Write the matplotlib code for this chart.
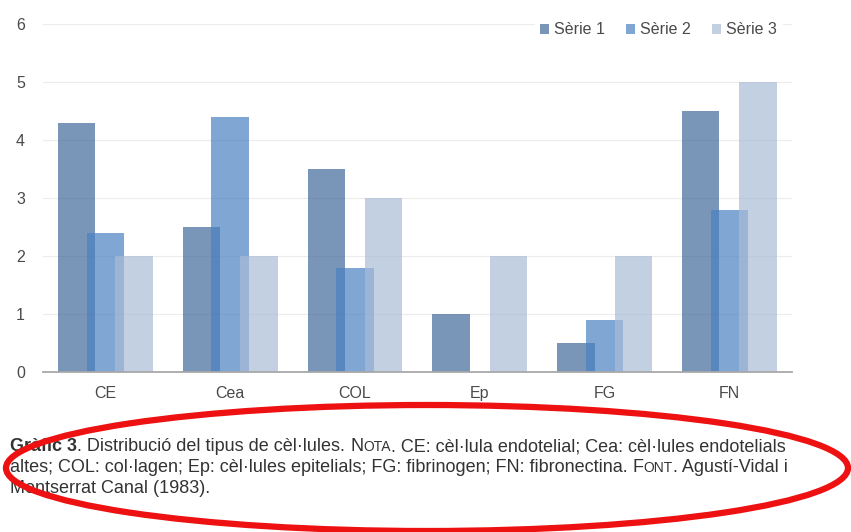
import matplotlib
matplotlib.use('Agg')
import matplotlib.pyplot as plt
from matplotlib.patches import Ellipse
import numpy as np

# data
categories = ['CE', 'Cea', 'COL', 'Ep', 'FG', 'FN']
serie1 = [4.3, 2.5, 3.5, 1.0, 0.5, 4.5]
serie2 = [2.4, 4.4, 1.8, 0.0, 0.9, 2.8]
serie3 = [2.0, 2.0, 3.0, 2.0, 2.0, 5.0]
series_names = ['Sèrie 1', 'Sèrie 2', 'Sèrie 3']
yticks = [0, 1, 2, 3, 4, 5, 6]

# base colours, drawn with alpha so the overlaps darken like the original
colors = ['#41689a', '#4a80c2', '#a9bcd7']
alpha = 0.7

fig = plt.figure(figsize=(8.51, 5.32), dpi=100)
ax = fig.add_axes([0.0505, 0.3008, 0.88, 0.6542])

x = np.arange(len(categories))
width = 0.30
offset = 0.23
for i, (vals, name) in enumerate(zip([serie1, serie2, serie3], series_names)):
    ax.bar(x + (i - 1) * offset, vals, width, color=colors[i], alpha=alpha,
           label=name, zorder=2 + i, linewidth=0)

ax.set_xlim(-0.5, len(categories) - 0.5)
ax.set_ylim(0, 6)
ax.set_yticks(yticks)
ax.set_xticks(x)
ax.set_xticklabels(categories)
ax.tick_params(length=0, labelsize=11.5, labelcolor='#4a4a4a')
ax.tick_params(axis='y', pad=13)
ax.tick_params(axis='x', pad=10)
for lab in ax.get_xticklabels() + ax.get_yticklabels():
    lab.set_family(['Liberation Sans', 'DejaVu Sans'])

for s in ['top', 'right', 'left']:
    ax.spines[s].set_visible(False)
ax.spines['bottom'].set_color('#a8a8a8')
ax.spines['bottom'].set_linewidth(1.3)
ax.spines['bottom'].set_zorder(10)
ax.grid(axis='y', color='#ececec', linewidth=0.8, zorder=0)
ax.set_axisbelow(True)

leg = fig.legend(*ax.get_legend_handles_labels(), loc='center right',
                 bbox_to_anchor=(782 / 851, 1 - 30 / 532), ncol=3,
                 frameon=True, handlelength=0.55, handleheight=0.55,
                 handletextpad=0.35, columnspacing=1.3, borderaxespad=0,
                 borderpad=0.3,
                 prop={'family': ['Liberation Sans', 'DejaVu Sans'], 'size': 11.5})
leg.get_frame().set_edgecolor('white')
leg.get_frame().set_facecolor('white')
leg.get_frame().set_alpha(1)
for t in leg.get_texts():
    t.set_color('#4a4a4a')

# caption, drawn in runs so small caps and bold can be mixed
cap_font = ['Liberation Sans', 'DejaVu Sans']
big, small = 13, 10
cap_lines = [
    [('Gràfic 3', big, 'bold'), ('. Distribució del tipus de cèl·lules. ', big, 'normal'),
     ('N', big, 'normal'), ('OTA', small, 'normal'),
     ('. CE: cèl·lula endotelial; Cea: cèl·lules endotelials', big, 'normal')],
    [('altes; COL: col·lagen; Ep: cèl·lules epitelials; FG: fibrinogen; FN: fibronectina. ', big, 'normal'),
     ('F', big, 'normal'), ('ONT', small, 'normal'), ('. Agustí-Vidal i', big, 'normal')],
    [('Montserrat Canal (1983).', big, 'normal')],
]
cap_y = [1 - 451 / 532, 1 - 472 / 532, 1 - 493 / 532]

fig.canvas.draw()
renderer = fig.canvas.get_renderer()
for runs, yy in zip(cap_lines, cap_y):
    xx = 0.012
    for txt, size, weight in runs:
        t = fig.text(xx, yy, txt, fontsize=size, fontweight=weight,
                     family=cap_font, color='#333333', va='baseline', ha='left')
        bb = t.get_window_extent(renderer=renderer)
        xx += bb.width / fig.bbox.width

# red ellipse drawn over the caption
ell = Ellipse((427 / 851, 1 - 468 / 532), 842 / 851, 126 / 532,
              transform=fig.transFigure, fill=False, edgecolor='#ee1111',
              linewidth=4.5, zorder=20)
fig.patches.append(ell)

fig.savefig('out.png', dpi=100)
